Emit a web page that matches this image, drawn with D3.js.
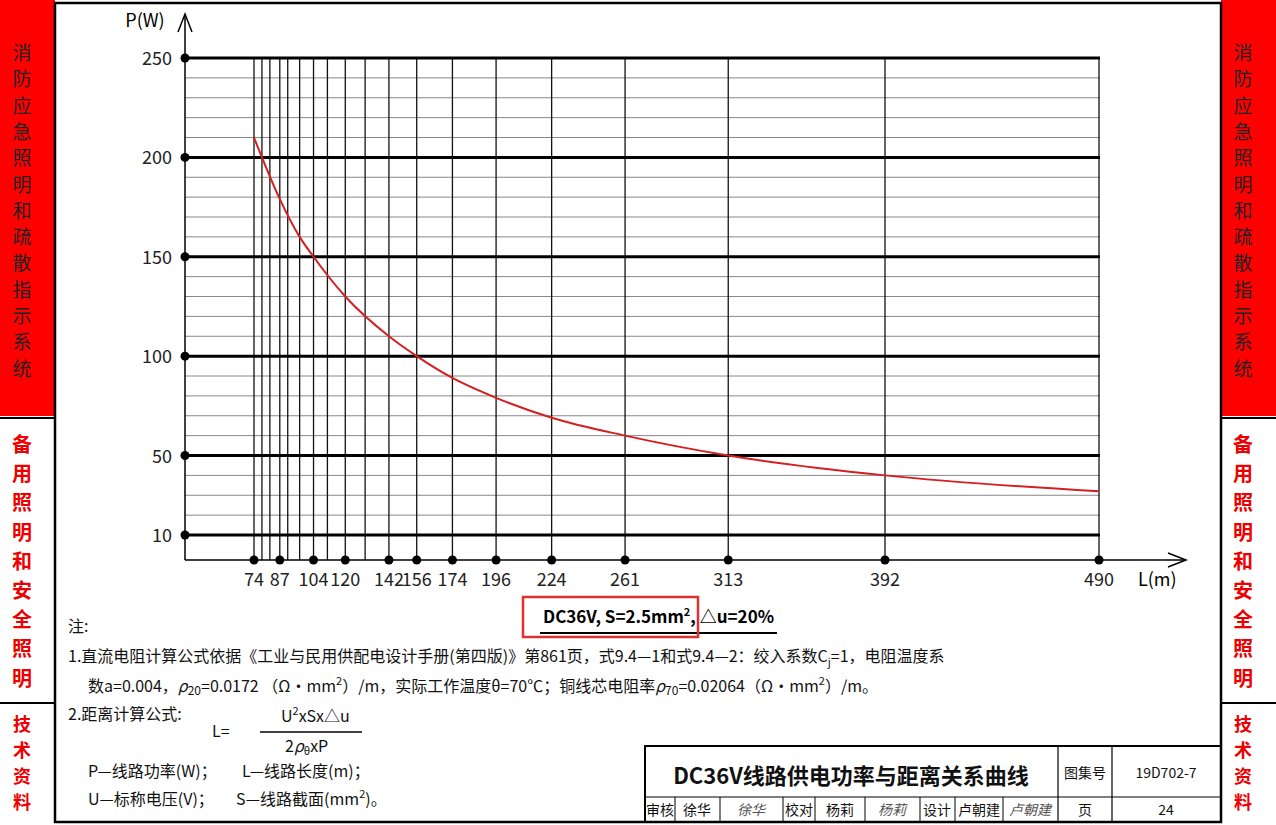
<!DOCTYPE html>
<html><head><meta charset="utf-8">
<script src="https://cdn.jsdelivr.net/npm/d3@7"></script>
<style>body{margin:0;background:#fff}text{font-family:"Noto Sans CJK SC","DejaVu Sans",sans-serif}</style>
</head><body><div id="chart"></div>
<script>
// values
var lTicks = [74, 87, 104, 120, 142, 156, 174, 196, 224, 261, 313, 392, 490];
var lMinor = [78, 82, 91, 97, 111, 130];
var pTicks = [10, 50, 100, 150, 200, 250];
var pMinor = [20, 30, 40, 60, 70, 80, 90, 110, 120, 130, 140, 160, 170, 180, 190, 210, 220, 230, 240];
var curveL = [74, 78, 87, 97, 104, 120, 142, 156, 174, 196, 224, 261, 313, 392, 490];
var curveP = [210, 200, 179, 160, 150, 130, 110, 100, 89, 79, 69, 60, 50, 40, 32];
var sideTop = ["消","防","应","急","照","明","和","疏","散","指","示","系","统"];
var sideMid = ["备","用","照","明","和","安","全","照","明"];
var sideBot = ["技","术","资","料"];

var W = 1276, H = 825;
var svg = d3.select("#chart").append("svg").attr("width", W).attr("height", H);

var x = d3.scaleLinear().domain([74, 392, 490]).range([254, 885, 1099]);
var y = d3.scaleLinear().domain([10, 250]).range([535, 58]);
var x0 = 185, yAxis = 560, xEnd = 1100;

// side panels
[0, 1221].forEach(function (px) {
  svg.append("rect").attr("x", px).attr("y", 0).attr("width", 55).attr("height", 416).attr("fill", "#f00");
  svg.append("line").attr("x1", px).attr("x2", px + 55).attr("y1", 703).attr("y2", 703).attr("stroke", "#000").attr("stroke-width", 2);
  svg.append("line").attr("x1", px).attr("x2", px + 55).attr("y1", 418).attr("y2", 418).attr("stroke", "#000").attr("stroke-width", 2);
  svg.selectAll(null).data(sideTop).enter().append("text")
    .attr("x", px + 22).attr("y", function (d, i) { return 60 + i * 26.3; })
    .attr("text-anchor", "middle").attr("font-size", 19).attr("fill", "#222").text(function (d) { return d; });
  svg.selectAll(null).data(sideMid).enter().append("text")
    .attr("x", px + 22).attr("y", function (d, i) { return 452 + i * 29.2; })
    .attr("text-anchor", "middle").attr("font-size", 20).attr("font-weight", "bold").attr("fill", "#e00").text(function (d) { return d; });
  svg.selectAll(null).data(sideBot).enter().append("text")
    .attr("x", px + 22).attr("y", function (d, i) { return 731 + i * 26; })
    .attr("text-anchor", "middle").attr("font-size", 18).attr("font-weight", "bold").attr("fill", "#e00").text(function (d) { return d; });
});
svg.append("rect").attr("x", 55).attr("y", 3).attr("width", 1166).attr("height", 819)
  .attr("fill", "none").attr("stroke", "#000").attr("stroke-width", 2.5);

// grid
var g = svg.append("g");
g.selectAll(".hm").data(pMinor).enter().append("line")
  .attr("x1", x0).attr("x2", xEnd).attr("y1", y).attr("y2", y).attr("stroke", "#888").attr("stroke-width", 1);
g.selectAll(".vm").data(lTicks.concat(lMinor)).enter().append("line")
  .attr("x1", x).attr("x2", x).attr("y1", y(250)).attr("y2", yAxis).attr("stroke", "#111").attr("stroke-width", 1.3);
g.selectAll(".hM").data(pTicks).enter().append("line")
  .attr("x1", x0).attr("x2", xEnd).attr("y1", y).attr("y2", y).attr("stroke", "#000").attr("stroke-width", 3);

// axes
svg.append("line").attr("x1", x0).attr("x2", x0).attr("y1", yAxis).attr("y2", 16).attr("stroke", "#000").attr("stroke-width", 1.5);
svg.append("path").attr("d", "M178,32L185,14L192,32").attr("fill", "none").attr("stroke", "#000").attr("stroke-width", 1.5);
svg.append("line").attr("x1", x0).attr("x2", 1186).attr("y1", yAxis).attr("y2", yAxis).attr("stroke", "#000").attr("stroke-width", 1.5);
svg.append("path").attr("d", "M1168,553L1186,560L1168,567").attr("fill", "none").attr("stroke", "#000").attr("stroke-width", 1.5);
svg.append("text").attr("x", 145).attr("y", 27).attr("font-size", 18).attr("text-anchor", "middle").text("P(W)");
svg.append("text").attr("x", 1138).attr("y", 586).attr("font-size", 18).text("L(m)");

svg.selectAll(".yd").data(pTicks).enter().append("circle").attr("cx", x0).attr("cy", y).attr("r", 4.5);
svg.selectAll(".yl").data(pTicks).enter().append("text").attr("x", 172).attr("y", function (d) { return y(d) + 7; })
  .attr("text-anchor", "end").attr("font-size", 18).attr("fill", "#222").text(function (d) { return d; });
svg.selectAll(".xd").data(lTicks).enter().append("circle").attr("cx", x).attr("cy", yAxis).attr("r", 4.5);
svg.selectAll(".xl").data(lTicks).enter().append("text").attr("x", x).attr("y", 586)
  .attr("text-anchor", "middle").attr("font-size", 18).attr("fill", "#222").text(function (d) { return d; });

// curve
var pts = curveL.map(function (l, i) { return [l, curveP[i]]; });
svg.append("path").datum(pts).attr("fill", "none").attr("stroke", "#d42020").attr("stroke-width", 2)
  .attr("d", d3.line().x(function (d) { return x(d[0]); }).y(function (d) { return y(d[1]); }).curve(d3.curveMonotoneX));

// caption
svg.append("text").attr("x", 543).attr("y", 623).attr("font-size", 17).attr("font-weight", "bold")
  .html('DC36V, S=2.5mm<tspan dy="-7" font-size="11">2</tspan><tspan dy="7">, △u=20%</tspan>');
svg.append("line").attr("x1", 540).attr("x2", 777).attr("y1", 633).attr("y2", 633).attr("stroke", "#000").attr("stroke-width", 2);
svg.append("rect").attr("x", 523).attr("y", 597).attr("width", 175).attr("height", 40).attr("fill", "none").attr("stroke", "#e03030").attr("stroke-width", 2.5);

// notes
var fs = 16;
function t(xp, yp, s, sz) { return svg.append("text").attr("x", xp).attr("y", yp).attr("font-size", sz || fs).attr("fill", "#111").html(s); }
t(68, 632, "注:");
t(68, 662, "1.直流电阻计算公式依据《工业与民用供配电设计手册(第四版)》第861页，式9.4—1和式9.4—2：绞入系数C<tspan dy='4' font-size='11'>j</tspan><tspan dy='-4'>=1，电阻温度系</tspan>");
t(88, 692, "数a=0.004，<tspan font-style='italic'>ρ</tspan><tspan font-size='12' dy='3'>20</tspan><tspan dy='-3'>=0.0172 （Ω·mm</tspan><tspan dy='-7' font-size='11'>2</tspan><tspan dy='7'>）/m，实际工作温度θ=70℃；铜线芯电阻率</tspan><tspan font-style='italic'>ρ</tspan><tspan font-size='12' dy='3'>70</tspan><tspan dy='-3'>=0.02064（Ω·mm</tspan><tspan dy='-7' font-size='11'>2</tspan><tspan dy='7'>）/m。</tspan>");
t(68, 720, "2.距离计算公式:");
t(212, 737, "L=");
t(281, 722, "U<tspan dy='-7' font-size='11'>2</tspan><tspan dy='7'>xSx△u</tspan>");
svg.append("line").attr("x1", 260).attr("x2", 362).attr("y1", 732).attr("y2", 732).attr("stroke", "#000").attr("stroke-width", 1.3);
t(285, 752, "2<tspan font-style='italic'>ρ</tspan><tspan font-size='11' dy='3'>θ</tspan><tspan dy='-3'>xP</tspan>");
t(88, 777, "P—线路功率(W)；");
t(242, 777, "L—线路长度(m)；");
t(88, 805, "U—标称电压(V)；");
t(236, 805, "S—线路截面(mm<tspan dy='-7' font-size='11'>2</tspan><tspan dy='7'>)。</tspan>");

// title block
var tb = svg.append("g").attr("stroke", "#000").attr("fill", "none");
tb.append("rect").attr("x", 645).attr("y", 746).attr("width", 576).attr("height", 76).attr("stroke-width", 2);
tb.append("line").attr("x1", 645).attr("x2", 1221).attr("y1", 797).attr("y2", 797).attr("stroke-width", 1.2);
[675, 720, 783, 815, 865, 920, 955, 1003].forEach(function (v) {
  tb.append("line").attr("x1", v).attr("x2", v).attr("y1", 797).attr("y2", 822).attr("stroke-width", 1);
});
[1058, 1112].forEach(function (v) {
  tb.append("line").attr("x1", v).attr("x2", v).attr("y1", 746).attr("y2", 822).attr("stroke-width", 1.2);
});
t(851, 784, "DC36V线路供电功率与距离关系曲线", 22).attr("text-anchor", "middle").attr("font-weight", "bold");
t(1085, 778, "图集号", 14).attr("text-anchor", "middle");
t(1166, 778, "19D702-7", 14).attr("text-anchor", "middle").attr("font-family", "Liberation Serif");
t(1085, 815, "页", 14).attr("text-anchor", "middle");
t(1166, 815, "24", 14).attr("text-anchor", "middle").attr("font-family", "Liberation Serif");
[["审核", 660], ["徐华", 697], ["校对", 799], ["杨莉", 840], ["设计", 937], ["卢朝建", 979]].forEach(function (d) {
  t(d[1], 815, d[0], 14).attr("text-anchor", "middle");
});
[["徐华", 751], ["杨莉", 892], ["卢朝建", 1030]].forEach(function (d) {
  t(d[1], 815, d[0], 14).attr("text-anchor", "middle").attr("font-style", "italic").attr("fill", "#555");
});
</script></body></html>
